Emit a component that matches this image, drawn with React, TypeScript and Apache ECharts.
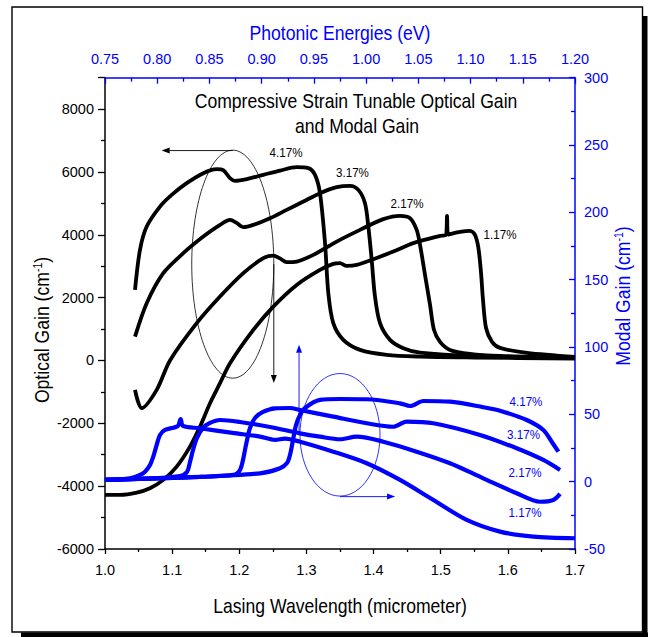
import React, { useEffect, useRef } from 'react';
import * as echarts from 'echarts';

const W = 649;
const H = 637;
const BLUE = '#0000ff';
const FONT = "'Liberation Sans', Arial, Helvetica, sans-serif";

// Axis ranges
const wlMin = 1.0, wlMax = 1.7, wlStep = 0.1;
const evMin = 0.75, evMax = 1.2, evStep = 0.05;
const ogMin = -6000, ogMax = 9000, ogStep = 2000;
const mgMin = -50, mgMax = 300, mgStep = 50;

// Optical gain curves (wavelength um, gain cm-1) - left axis
const optical417: [number, number][] = [
  [1.0447, 2247], [1.0521, 3520], [1.0621, 4262], [1.0819, 4899], [1.0993, 5271], [1.1217, 5644],
  [1.1464, 5962], [1.1664, 6089], [1.176, 6060], [1.1862, 5803], [1.1936, 5717], [1.2111, 5771],
  [1.2358, 5908], [1.2607, 6045], [1.2855, 6153], [1.3028, 6121], [1.3128, 5908], [1.3202, 5325],
  [1.3277, 3734], [1.3326, 2142], [1.34, 1187], [1.3549, 656], [1.3798, 337], [1.4196, 178],
  [1.4692, 124], [1.55, 95], [1.7, 60],
];
const optical317: [number, number][] = [
  [1.0447, 761], [1.0621, 1824], [1.0868, 2779], [1.1166, 3415], [1.1464, 3944], [1.1713, 4316],
  [1.1862, 4475], [1.196, 4380], [1.206, 4243], [1.2209, 4316], [1.2458, 4529], [1.2706, 4794],
  [1.2954, 5058], [1.3202, 5325], [1.3451, 5516], [1.3649, 5558], [1.3773, 5430], [1.3872, 5007],
  [1.3922, 4262], [1.3972, 3202], [1.4021, 2034], [1.4096, 1187], [1.4245, 656], [1.4443, 392],
  [1.4692, 251], [1.55, 140], [1.7, 80],
];
const optical217: [number, number][] = [
  [1.0447, -935], [1.0547, -1518], [1.077, -935], [1.0968, 0], [1.1366, 1187], [1.1713, 2034],
  [1.206, 2779], [1.2358, 3256], [1.2507, 3339], [1.2606, 3250], [1.2706, 3129], [1.2855, 3148],
  [1.3103, 3361], [1.3451, 3785], [1.3798, 4157], [1.4145, 4498], [1.4394, 4603], [1.4543, 4529],
  [1.4642, 4157], [1.4692, 3680], [1.4766, 2725], [1.4841, 1770], [1.49, 974], [1.499, 592],
  [1.5138, 337], [1.5436, 210], [1.5883, 146], [1.7, 95],
];
const optical117: [number, number][] = [
  [1.0, -4278], [1.0223, -4278], [1.0472, -4205], [1.067, -4065], [1.0868, -3800], [1.1068, -3377],
  [1.1266, -2741], [1.1415, -2104], [1.1564, -1359], [1.1713, -723], [1.1862, -86], [1.2209, 974],
  [1.2507, 1716], [1.2855, 2406], [1.3202, 2884], [1.34, 3075], [1.35, 3097], [1.36, 3011],
  [1.3749, 3043], [1.3996, 3224], [1.4294, 3466], [1.4592, 3734], [1.499, 3966], [1.508, 4000],
  [1.5094, 4600], [1.511, 4010], [1.5287, 4093], [1.5436, 4125], [1.551, 4000], [1.556, 3600],
  [1.56, 2800], [1.563, 1926], [1.5675, 1034], [1.5764, 592], [1.5883, 401], [1.6285, 242], [1.7, 115],
];

// Modal gain curves (wavelength um, modal gain cm-1) - right axis
const modal417: [number, number][] = [
  [1.0, 1.3], [1.1415, 3.5], [1.2309, 6.2], [1.2607, 10.0], [1.2711, 13.9], [1.2755, 19.8],
  [1.28, 31.0], [1.2845, 42.1], [1.2904, 49.5], [1.2979, 54.7], [1.3202, 60.7], [1.35, 61.4],
  [1.3898, 61.2], [1.4394, 58.2], [1.4543, 56.2], [1.4741, 59.9], [1.5138, 59.4], [1.5634, 55.3],
  [1.5883, 52.7], [1.6281, 45.8], [1.6528, 38.4], [1.6653, 29.7], [1.6752, 22.3],
];
const modal317: [number, number][] = [
  [1.0, 1.3], [1.1415, 3.5], [1.1936, 5.3], [1.2011, 8.7], [1.2055, 16.1], [1.21, 27.3],
  [1.216, 39.9], [1.2234, 47.3], [1.2353, 51.8], [1.2532, 54.5], [1.2755, 54.7], [1.2904, 53.2],
  [1.34, 48.3], [1.3898, 43.4], [1.4294, 40.8], [1.4494, 44.6], [1.489, 43.4], [1.5585, 34.7],
  [1.6132, 24.8], [1.6528, 16.1], [1.6777, 8.7],
];
const modal217: [number, number][] = [
  [1.0, 1.3], [1.067, 2.4], [1.1117, 4.2], [1.1221, 7.2], [1.1266, 14.6], [1.1311, 23.5],
  [1.137, 32.5], [1.146, 39.9], [1.1564, 43.6], [1.1713, 45.8], [1.2011, 44.3], [1.2458, 40.6],
  [1.2904, 35.9], [1.3202, 33.4], [1.35, 31.5], [1.3749, 33.4], [1.4145, 29.7], [1.4642, 22.3],
  [1.5138, 13.7], [1.5634, 2.5], [1.6131, -8.6], [1.6479, -14.9], [1.6677, -13.6], [1.6777, -9.1],
];
const modal117: [number, number][] = [
  [1.0, 1.3], [1.0372, 2.5], [1.0521, 5.0], [1.0596, 7.4], [1.067, 12.4], [1.0719, 18.6],
  [1.077, 27.3], [1.0819, 34.7], [1.0894, 38.4], [1.1017, 40.1], [1.1087, 41.4], [1.1127, 46.5],
  [1.1162, 41.4], [1.1415, 39.7], [1.19, 36.2], [1.2308, 33.5], [1.2532, 31.0], [1.2681, 32.0],
  [1.2904, 29.7], [1.34, 22.3], [1.3898, 13.7], [1.4394, 1.3], [1.489, -13.6], [1.5387, -28.4],
  [1.5883, -37.1], [1.6379, -40.8], [1.7, -42.0],
];

const strainLabels = ['4.17%', '3.17%', '2.17%', '1.17%'];
// label anchor positions in data units
const opticalLabelPos: [number, number][] = [[1.2696, 6608], [1.3686, 5962], [1.4498, 4985], [1.5883, 3998]];
const modalLabelPos: [number, number][] = [[1.627, 59.4], [1.6233, 34.7], [1.6256, 6.7], [1.6256, -23.0]];

function blackSeries(name: string, data: [number, number][]) {
  return {
    type: 'line', name, data, xAxisIndex: 0, yAxisIndex: 0, showSymbol: false, smooth: 0.3,
    silent: true, z: 2, lineStyle: { color: '#000', width: 3.8 },
  };
}
function blueSeries(name: string, data: [number, number][]) {
  return {
    type: 'line', name, data, xAxisIndex: 0, yAxisIndex: 1, showSymbol: false, smooth: 0.3,
    silent: true, z: 3, lineStyle: { color: BLUE, width: 4.2 },
  };
}

function arrow(a: number[], b: number[], color: string) {
  const dx = b[0] - a[0], dy = b[1] - a[1];
  const len = Math.hypot(dx, dy) || 1;
  const ux = dx / len, uy = dy / len;
  const hl = 8, hw = 3;
  const bx = b[0] - ux * hl, by = b[1] - uy * hl;
  return [
    { type: 'line', shape: { x1: a[0], y1: a[1], x2: bx, y2: by }, style: { stroke: color, lineWidth: 0.9 }, z: 10 },
    {
      type: 'polygon',
      shape: { points: [[b[0], b[1]], [bx - uy * hw, by + ux * hw], [bx + uy * hw, by - ux * hw]] },
      style: { fill: color }, z: 10,
    },
  ];
}

export default function App() {
  const ref = useRef<HTMLDivElement>(null);
  useEffect(() => {
    const chart = echarts.init(ref.current!, null, { renderer: 'svg', width: W, height: H });
    const tickLabel = (color: string) => ({ color, fontSize: 14.5, fontFamily: FONT });
    chart.setOption({
      animation: false,
      backgroundColor: '#fff',
      grid: { left: 105, right: 74, top: 77.7, bottom: 88 },
      xAxis: [
        {
          type: 'value', position: 'bottom', min: wlMin, max: wlMax, interval: wlStep,
          axisLine: { onZero: false, lineStyle: { color: '#000', width: 1.5 } },
          axisTick: { inside: false, length: 5, lineStyle: { color: '#000', width: 1.3 } },
          minorTick: { show: true, splitNumber: 2, length: 3, lineStyle: { color: '#000', width: 1.3 } },
          splitLine: { show: false },
          axisLabel: { ...tickLabel('#000'), margin: 13, formatter: (v: number) => v.toFixed(1) },
        },
        {
          type: 'value', position: 'top', min: evMin, max: evMax, interval: evStep,
          axisLine: { onZero: false, lineStyle: { color: BLUE, width: 1.5 } },
          axisTick: { inside: true, length: 6, lineStyle: { color: BLUE, width: 1.3 } },
          minorTick: { show: true, splitNumber: 2, length: 4, lineStyle: { color: BLUE, width: 1.3 } },
          splitLine: { show: false },
          axisLabel: { ...tickLabel(BLUE), margin: 11, formatter: (v: number) => v.toFixed(2) },
        },
      ],
      yAxis: [
        {
          type: 'value', position: 'left', min: ogMin, max: ogMax, interval: ogStep,
          axisLine: { show: true, onZero: false, lineStyle: { color: '#000', width: 1.5 } },
          axisTick: { show: true, inside: false, length: 7, lineStyle: { color: '#000', width: 1.3 } },
          minorTick: { show: true, splitNumber: 2, length: 4, lineStyle: { color: '#000', width: 1.3 } },
          splitLine: { show: false },
          axisLabel: {
            ...tickLabel('#000'), margin: 11,
            formatter: (v: number) => (Math.abs(v % ogStep) < 1e-6 ? String(v) : ''),
          },
        },
        {
          type: 'value', position: 'right', min: mgMin, max: mgMax, interval: mgStep,
          axisLine: { show: true, onZero: false, lineStyle: { color: BLUE, width: 1.5 } },
          axisTick: { show: true, inside: true, length: 6, lineStyle: { color: BLUE, width: 1.3 } },
          minorTick: { show: true, splitNumber: 2, length: 4, lineStyle: { color: BLUE, width: 1.3 } },
          splitLine: { show: false },
          axisLabel: { ...tickLabel(BLUE), margin: 9 },
        },
      ],
      series: [
        blackSeries('4.17% optical', optical417),
        blackSeries('3.17% optical', optical317),
        blackSeries('2.17% optical', optical217),
        blackSeries('1.17% optical', optical117),
        blueSeries('4.17% modal', modal417),
        blueSeries('3.17% modal', modal317),
        blueSeries('2.17% modal', modal217),
        blueSeries('1.17% modal', modal117),
      ],
    });

    const pL = (x: number, y: number) => chart.convertToPixel({ xAxisIndex: 0, yAxisIndex: 0 }, [x, y]) as number[];
    const pR = (x: number, y: number) => chart.convertToPixel({ xAxisIndex: 0, yAxisIndex: 1 }, [x, y]) as number[];

    const g: any[] = [];
    // frame with shadow
    g.push({ type: 'rect', shape: { x: 21, y: 632.5, width: 627, height: 5 }, style: { fill: '#000' }, z: 0 });
    g.push({ type: 'rect', shape: { x: 642.5, y: 16, width: 5, height: 621 }, style: { fill: '#000' }, z: 0 });
    g.push({ type: 'rect', shape: { x: 12, y: 7, width: 630.5, height: 625 }, style: { fill: 'none', stroke: '#000', lineWidth: 1.4 }, z: 1 });

    const txt = (text: string, x: number, y: number, color: string, size: number, opts: any = {}) => ({
      type: 'text', x, y, scaleX: opts.scaleX ?? 0.88, rotation: opts.rotation ?? 0, z: 20,
      style: {
        text, fill: color, fontSize: size, fontFamily: FONT,
        align: 'center', verticalAlign: 'middle', rich: opts.rich,
      },
    });
    g.push(txt('Compressive Strain Tunable Optical Gain', 356, 101, '#000', 20));
    g.push(txt('and Modal Gain', 357, 126, '#000', 20));
    g.push(txt('Lasing Wavelength (micrometer)', 340, 606, '#000', 20));
    g.push(txt('Photonic Energies (eV)', 340, 33, BLUE, 20));
    const supRich = (color: string) => ({
      a: { fontSize: 20, fill: color, fontFamily: FONT },
      s: { fontSize: 12, fill: color, fontFamily: FONT, verticalAlign: 'top' },
    });
    g.push(txt('{a|Optical Gain (cm}{s|-1}{a|)}', 42, 330, '#000', 20, { rotation: Math.PI / 2, rich: supRich('#000') }));
    g.push(txt('{a|Modal Gain (cm}{s|-1}{a|)}', 623, 296, BLUE, 20, { rotation: Math.PI / 2, rich: supRich(BLUE) }));

    // strain labels
    strainLabels.forEach((s, i) => {
      const p = pL(opticalLabelPos[i][0], opticalLabelPos[i][1]);
      g.push(txt(s, p[0], p[1], '#000', 13.5, { scaleX: 0.86 }));
      const q = pR(modalLabelPos[i][0], modalLabelPos[i][1]);
      g.push(txt(s, q[0], q[1], BLUE, 13.5, { scaleX: 0.86 }));
    });

    // ellipses
    const c1 = pL(1.1903, 3065);
    const e1x = pL(1.1903 + 0.0611, 3065);
    const e1y = pL(1.1903, 3065 + 3628);
    g.push({ type: 'ellipse', shape: { cx: c1[0], cy: c1[1], rx: Math.abs(e1x[0] - c1[0]), ry: Math.abs(e1y[1] - c1[1]) }, style: { fill: 'none', stroke: '#000', lineWidth: 0.8 }, z: 10 });
    const c2 = pR(1.35, 34.8);
    const e2x = pR(1.35 + 0.0596, 34.8);
    const e2y = pR(1.35, 34.8 + 45.5);
    g.push({ type: 'ellipse', shape: { cx: c2[0], cy: c2[1], rx: Math.abs(e2x[0] - c2[0]), ry: Math.abs(e2y[1] - c2[1]) }, style: { fill: 'none', stroke: BLUE, lineWidth: 0.8 }, z: 10 });

    // arrows
    g.push(...arrow(pL(1.1903, 6681), pL(1.0844, 6681), '#000'));
    g.push(...arrow(pL(1.2514, 3065), pL(1.2514, -713), '#000'));
    g.push(...arrow(pR(1.289, 34.7), pR(1.289, 101.6), BLUE));
    g.push(...arrow(pR(1.35, -11.1), pR(1.432, -11.1), BLUE));

    chart.setOption({ graphic: g });
    return () => chart.dispose();
  }, []);
  return <div ref={ref} style={{ position: 'absolute', left: 0, top: 0, width: W, height: H }} />;
}
